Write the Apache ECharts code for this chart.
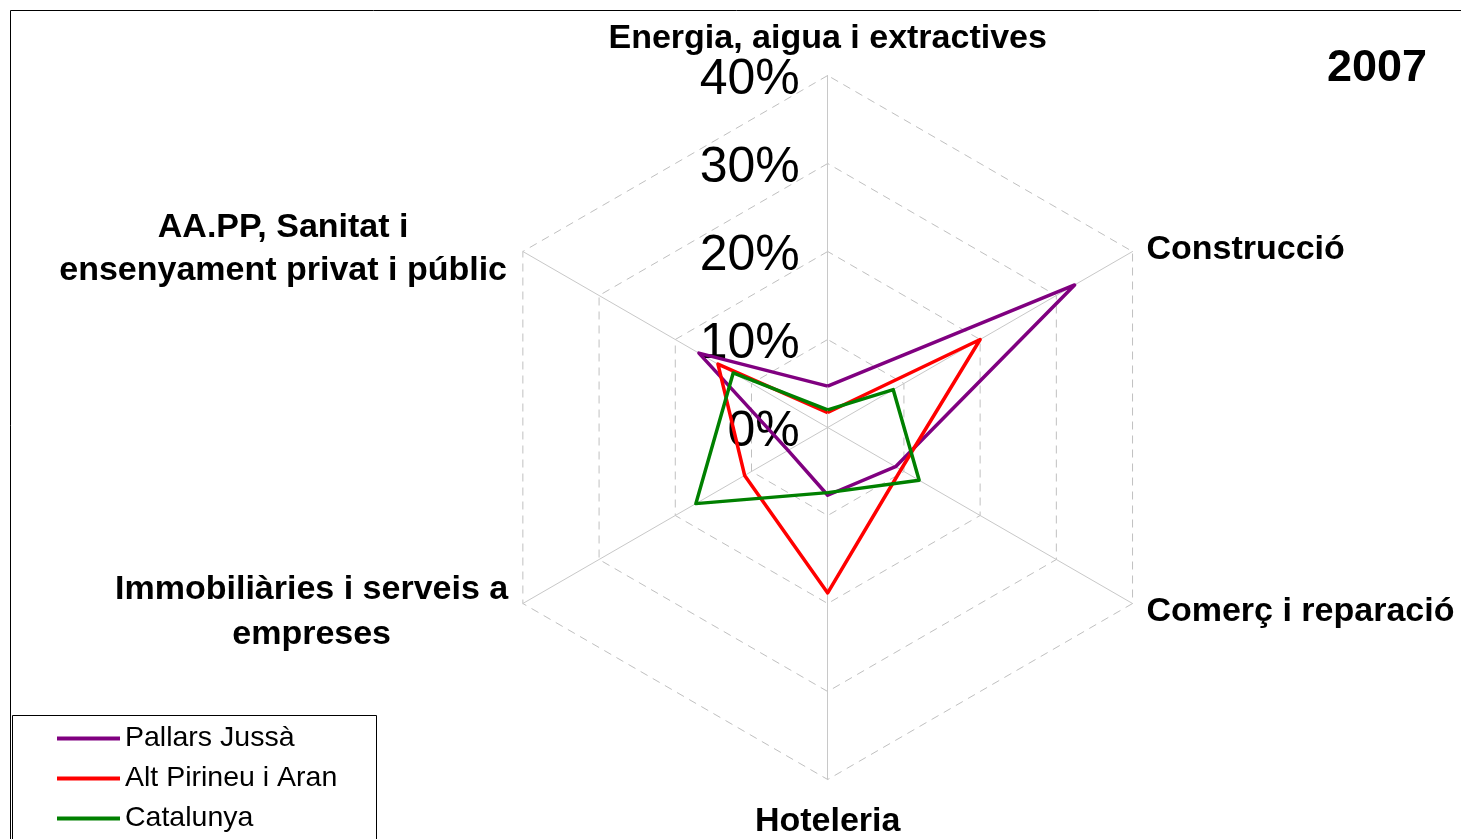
<!DOCTYPE html>
<html>
<head>
<meta charset="utf-8">
<script src="https://cdn.jsdelivr.net/npm/echarts@6/dist/echarts.min.js"></script>
<style>
html,body{margin:0;padding:0;background:#fff;}
#chart{width:1461px;height:839px;}
</style>
</head>
<body>
<div id="chart"></div>
<script>
// Categories in clockwise order starting from the top
const categories = [
  'Energia, aigua i extractives',
  'Construcció',
  'Comerç i reparació',
  'Hoteleria',
  'Immobiliàries i serveis a empreses',
  'AA.PP, Sanitat i ensenyament privat i públic'
];
const seriesNames = ['Pallars Jussà', 'Alt Pirineu i Aran', 'Catalunya'];
const pallarsJussa = [4.7, 32.4, 8.9, 7.7, 5.2, 16.9];
const altPirineuAran = [1.7, 20.0, 9.6, 18.8, 10.9, 14.4];
const catalunya = [2.0, 8.6, 12.0, 7.4, 17.3, 12.4];
const axisMax = 40;
const axisInterval = 10;

const FONT = '"Liberation Sans", Arial, sans-serif';
const colors = ['#800080', '#FF0000', '#008000'];

// ECharts radar places indicators counter-clockwise: reorder so the picture reads clockwise
const order = [0, 5, 4, 3, 2, 1];
const nameGaps = {0: 17, 1: 16, 2: 16, 3: 25, 4: 17, 5: 17};
const namePads = {0: 0, 1: 12, 2: 0, 3: 0, 4: 0, 5: 12};
const nameLines = {
  4: ['Immobiliàries i serveis a', 'empreses'],
  5: ['AA.PP, Sanitat i', 'ensenyament privat i públic']
};
const blockWidths = {4: 393, 5: 450};

const indicator = order.map(function (ci, k) {
  return {
    name: categories[ci],
    min: 0,
    max: axisMax,
    nameGap: nameGaps[ci],
    nameTextStyle: {padding: [namePads[ci], 0, 0, 0]},
    axisLabel: {show: k === 0}
  };
});
const pick = function (arr) { return order.map(function (ci) { return arr[ci]; }); };
const seriesValues = [pallarsJussa, altPirineuAran, catalunya];

const chart = echarts.init(document.getElementById('chart'));
chart.setOption({
  animation: false,
  backgroundColor: '#fff',
  textStyle: {fontFamily: FONT},
  title: {
    text: '2007',
    right: 34,
    top: 46,
    padding: 0,
    textStyle: {fontFamily: FONT, fontSize: 45, fontWeight: 'bold', color: '#000'}
  },
  graphic: [{
    type: 'rect',
    silent: true,
    shape: {x: 10.5, y: 10.5, width: 1460, height: 840},
    style: {fill: 'none', stroke: '#000', lineWidth: 1}
  }, {
    type: 'rect',
    silent: true,
    shape: {x: 12.5, y: 715.5, width: 364, height: 140},
    style: {fill: 'none', stroke: '#000', lineWidth: 1}
  }],
  legend: {
    orient: 'vertical',
    left: 12,
    top: 715,
    padding: [9, 40, 0, 45],
    borderWidth: 0,
    itemWidth: 63,
    itemHeight: 4,
    itemGap: 11,
    icon: 'rect',
    data: seriesNames,
    textStyle: {fontFamily: FONT, fontSize: 28.5, color: '#000'}
  },
  radar: {
    center: [827.7, 427.5],
    radius: 352,
    startAngle: 90,
    shape: 'polygon',
    splitNumber: axisMax / axisInterval,
    indicator: indicator,
    axisName: {
      color: '#000',
      fontFamily: FONT,
      fontSize: 34,
      fontWeight: 'bold',
      formatter: function (name) {
        const ci = categories.indexOf(name);
        if (nameLines[ci]) {
          return nameLines[ci].map(function (l) { return '{c' + ci + '|' + l + '}'; }).join('\n');
        }
        return name;
      },
      rich: {
        c4: {width: blockWidths[4], align: 'center', fontSize: 34, fontWeight: 'bold', fontFamily: FONT, color: '#000', lineHeight: 45},
        c5: {width: blockWidths[5], align: 'center', fontSize: 34, fontWeight: 'bold', fontFamily: FONT, color: '#000', lineHeight: 43}
      }
    },
    axisLine: {show: true, lineStyle: {color: '#c8c8c8', width: 1}},
    axisTick: {show: false},
    axisLabel: {
      show: false,
      showMinLabel: true,
      showMaxLabel: true,
      margin: 28,
      fontFamily: FONT,
      fontSize: 50,
      color: '#000',
      formatter: function (v) { return '{v|' + v + '%}'; },
      rich: {
        v: {fontFamily: FONT, fontSize: 50, color: '#000', padding: [10, 0, 0, 0]}
      }
    },
    splitLine: {show: true, lineStyle: {color: '#c0c0c0', width: 1, type: [8, 6]}},
    splitArea: {show: false}
  },
  series: [{
    type: 'radar',
    symbol: 'none',
    data: seriesNames.map(function (n, i) {
      return {
        name: n,
        value: pick(seriesValues[i]),
        lineStyle: {color: colors[i], width: 3.5},
        itemStyle: {color: colors[i]}
      };
    })
  }]
});
</script>
</body>
</html>
